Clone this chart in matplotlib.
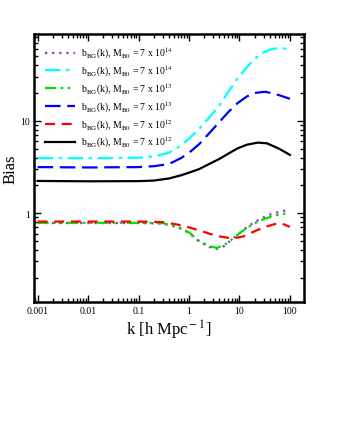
import matplotlib
matplotlib.use("Agg")
import matplotlib.pyplot as plt
from matplotlib.ticker import LogLocator, NullFormatter, FixedLocator, FixedFormatter

plt.rcParams['font.family'] = ['Liberation Serif', 'DejaVu Serif']
plt.rcParams['mathtext.fontset'] = 'stix'

# k grid and bias curves
k_hi = [0.001, 0.01, 0.1, 0.2, 0.4, 0.7, 1, 1.6, 2.5, 4, 6, 9, 14, 20, 30, 45, 63, 100]
b_cyan = [3.95, 3.93, 3.98, 4.1, 4.5, 5.4, 6.4, 8.2, 10.8, 14.6, 20.5, 28.5, 38, 47, 55, 60, 61, 60]

k_blue = [0.001, 0.01, 0.1, 0.2, 0.4, 0.7, 1, 1.6, 2.5, 4, 6, 9, 14, 20, 32, 50, 100]
b_blue = [3.15, 3.12, 3.15, 3.22, 3.4, 3.95, 4.5, 5.6, 7.3, 9.7, 12.4, 15.4, 18.3, 20.0, 20.6, 19.6, 17.3]

k_black = [0.001, 0.01, 0.1, 0.2, 0.4, 0.7, 1, 1.6, 2.5, 4, 6, 9, 14, 23, 35, 60, 100]
b_black = [2.23, 2.21, 2.22, 2.25, 2.37, 2.57, 2.74, 3.0, 3.4, 3.86, 4.4, 5.0, 5.5, 5.8, 5.7, 5.0, 4.27]

k_red = [0.001, 0.01, 0.1, 0.3, 0.6, 1, 1.6, 2.5, 4, 7.4, 12, 18, 30, 50, 65, 100]
b_red = [0.81, 0.81, 0.81, 0.80, 0.75, 0.70, 0.65, 0.60, 0.56, 0.53, 0.56, 0.62, 0.70, 0.76, 0.78, 0.71]

k_low = [0.001, 0.01, 0.1, 0.3, 0.6, 1, 1.6, 2.5, 3.5, 5, 7.4, 12, 18.5, 30, 46, 70, 100]
b_green = [0.785, 0.785, 0.785, 0.78, 0.71, 0.62, 0.50, 0.44, 0.42, 0.45, 0.53, 0.65, 0.76, 0.86, 0.93, 0.98, 1.0]
b_purple = [0.78, 0.78, 0.78, 0.77, 0.70, 0.61, 0.49, 0.43, 0.41, 0.44, 0.53, 0.66, 0.78, 0.90, 0.99, 1.05, 1.09]

labels = [r'b$_{\rm BG}$(k), M$_{\rm B0}$ = 7 x 10$^{14}$',
          r'b$_{\rm BG}$(k), M$_{\rm B0}$ = 7 x 10$^{14}$',
          r'b$_{\rm BG}$(k), M$_{\rm B0}$ = 7 x 10$^{13}$',
          r'b$_{\rm BG}$(k), M$_{\rm B0}$ = 7 x 10$^{13}$',
          r'b$_{\rm BG}$(k), M$_{\rm B0}$ = 7 x 10$^{12}$',
          r'b$_{\rm BG}$(k), M$_{\rm B0}$ = 7 x 10$^{12}$']

fig = plt.figure(figsize=(3.39, 4.39), dpi=100)
ax = fig.add_axes([0.1003, 0.3098, 0.7965, 0.6105])

lw = 1.6
ax.plot(k_low, b_purple, color='#9932cc', ls=(0, (1, 2.2)), lw=lw, label=labels[0])
ax.plot(k_hi, b_cyan, color='#00ffff', ls=(0, (7, 2.5, 1.5, 2.5)), lw=lw, label=labels[1])
ax.plot(k_low, b_green, color='#00e000', ls=(0, (5, 2, 1.2, 2, 1.2, 2)), lw=lw, label=labels[2])
ax.plot(k_blue, b_blue, color='#0000ff', ls=(0, (7, 3)), lw=lw, label=labels[3])
ax.plot(k_red, b_red, color='#ff0000', ls=(0, (4.5, 3)), lw=lw, label=labels[4])
ax.plot(k_black, b_black, color='black', ls='-', lw=lw, label=labels[5])

ax.set_xscale('log')
ax.set_yscale('log')
ax.set_xlim(0.00085, 190)
ax.set_ylim(0.109, 87)

xt = [0.001, 0.01, 0.1, 1, 10, 100]
ax.xaxis.set_major_locator(FixedLocator(xt))
ax.xaxis.set_major_formatter(FixedFormatter(['0.001', '0.01', '0.1', '1', '10', '100']))
ax.xaxis.set_minor_locator(LogLocator(base=10, subs=range(2, 10), numticks=20))
ax.xaxis.set_minor_formatter(NullFormatter())
ax.yaxis.set_major_locator(FixedLocator([1, 10]))
ax.yaxis.set_major_formatter(FixedFormatter(['1', '10']))
ax.yaxis.set_minor_locator(LogLocator(base=10, subs=range(2, 10), numticks=20))
ax.yaxis.set_minor_formatter(NullFormatter())

ax.tick_params(which='both', direction='in', top=True, right=True, labelsize=7, width=1)
ax.tick_params(which='major', length=5, pad=3)
ax.tick_params(which='minor', length=3)
for s in ax.spines.values():
    s.set_linewidth(1.8)

ax.set_xlabel(r'k [h Mpc$^{\rm -1}$]', fontsize=12, labelpad=2)
ax.set_ylabel('Bias', fontsize=12, labelpad=1)

ax.legend(loc='upper left', frameon=False, fontsize=7, handlelength=3.1,
          handletextpad=0.6, labelspacing=0.28, borderaxespad=0.75)

fig.savefig('out.png', dpi=100)
